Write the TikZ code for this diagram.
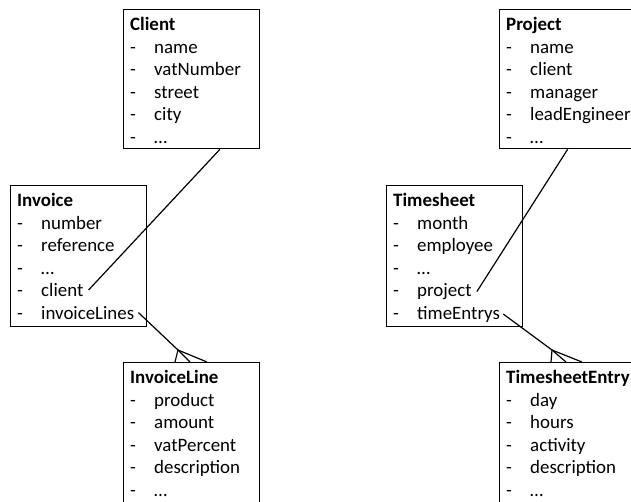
\documentclass[tikz,border=0pt]{standalone}
\usepackage{fontspec}
\setmainfont{Carlito}
\usetikzlibrary{calc}
\newcommand\mkentity[6]{% #1 id, #2 x, #3 top, #4 height, #5 title, #6 items
  \node[entity, minimum height=#4pt] (#1) at (#2,#3) {};
  \node[ttl] (#1-t) at (#2+7,#3+21.5) {#5};
  \foreach \t [count=\i] in {#6} {
    \node[txt] (#1-d\i) at (#2+7,#3+21.5+22.5*\i) {-};
    \node[txt] (#1-\i) at (#2+31,#3+21.5+22.5*\i) {\t};
  }
}
\begin{document}
\begin{tikzpicture}[x=1pt,y=-1pt,
  entity/.style={draw, line width=1.3pt, anchor=north west, minimum width=136pt, inner sep=0pt},
  txt/.style={anchor=base west, inner sep=0pt, font=\fontsize{18.9}{22.5}\selectfont},
  ttl/.style={txt, font=\fontsize{18.9}{22.5}\selectfont\bfseries},
  link/.style={line width=1.2pt}]
\useasboundingbox (0,0) rectangle (631,501);
\clip (0,0) rectangle (631,501);

\mkentity{client}{123}{9}{139}{Client}{name,vatNumber,street,city,…}
\mkentity{inv}{10}{185}{141}{Invoice}{number,reference,…,client,invoiceLines}
\mkentity{invline}{123}{362}{160}{InvoiceLine}{product,amount,vatPercent,description,…}
\mkentity{project}{499}{9}{139}{Project}{name,client,manager,leadEngineer,…}
\mkentity{ts}{386}{185}{141}{Timesheet}{month,employee,…,project,timeEntrys}
\mkentity{tse}{499}{362}{160}{TimesheetEntry}{day,hours,activity,description,…}

% one-to-one references
\draw[link] ($(client.south west)!0.706!(client.south east)$) -- ([xshift=5pt]inv-4.east);
\draw[link] (project.south) -- ([xshift=5pt]ts-4.east);

% one-to-many: invoice lines
\coordinate (ilapex) at ($(invline.north west)+(55,-12)$);
\coordinate (ilf1) at ($(invline.north west)+(52,0)$);
\coordinate (ilf2) at ($(invline.north west)+(67,0)$);
\coordinate (ilf3) at ($(invline.north west)+(84,0)$);
\draw[link] ([xshift=4pt]inv-5.east) -- (ilapex) -- (ilf2);
\draw[link] (ilapex) -- (ilf1);
\draw[link] (ilapex) -- (ilf3);

% one-to-many: time entries
\coordinate (teapex) at ($(tse.north west)+(53,-12)$);
\coordinate (tef1) at ($(tse.north west)+(52,0)$);
\coordinate (tef2) at ($(tse.north west)+(67,0)$);
\coordinate (tef3) at ($(tse.north west)+(83,0)$);
\draw[link] ([xshift=3pt]ts-5.east) -- (teapex) -- (tef2);
\draw[link] (teapex) -- (tef1);
\draw[link] (teapex) -- (tef3);
\end{tikzpicture}
\end{document}
